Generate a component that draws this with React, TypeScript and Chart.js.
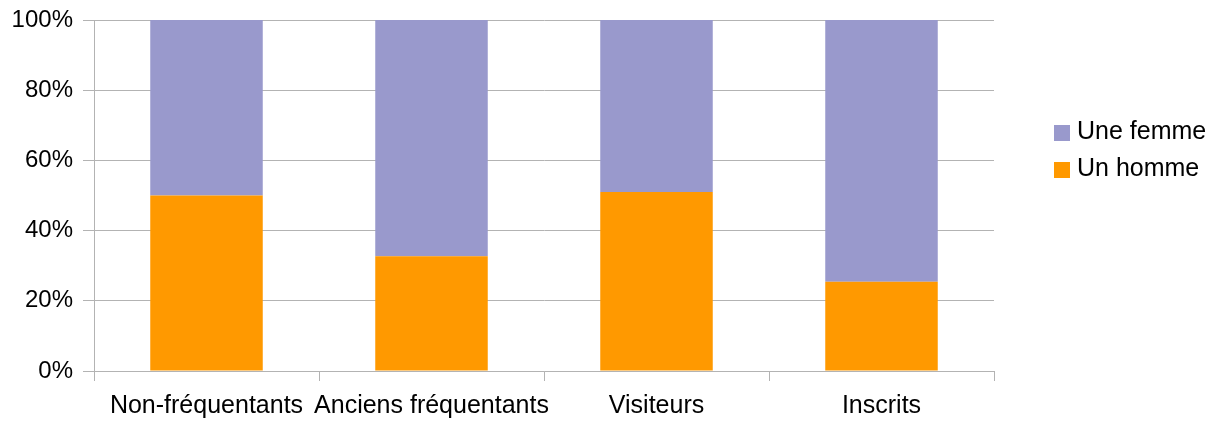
import React, { useEffect, useRef } from "react";
import { Chart, registerables } from "chart.js";

Chart.register(...registerables);

// Répartition hommes / femmes par type de public (en %)
const categories = ["Non-fréquentants", "Anciens fréquentants", "Visiteurs", "Inscrits"];
const hommeValues = [50, 32.7, 51, 25.4];
const femmeValues = [50, 67.3, 49, 74.6];
const seriesLabels = ["Un homme", "Une femme"];
const yTicks = [0, 20, 40, 60, 80, 100];

const FONT = "'Liberation Sans', Arial, sans-serif";
const GRID = "#b3b3b3";
const COLOR_HOMME = "#ff9900";
const COLOR_FEMME = "#9999cc";

// Légende dessinée à droite du graphique (série du haut en premier)
const sideLegend = {
  id: "sideLegend",
  afterDraw(chart: any) {
    const { ctx, chartArea } = chart;
    const items = chart.data.datasets
      .map((d: any) => ({ label: d.label, color: d.backgroundColor }))
      .reverse();
    ctx.save();
    ctx.font = `25px ${FONT}`;
    ctx.textBaseline = "middle";
    ctx.textAlign = "left";
    const boxX = chartArea.right + 60;
    let cy = 132;
    items.forEach((it: any) => {
      ctx.fillStyle = it.color;
      ctx.fillRect(boxX, cy - 7, 16, 16);
      ctx.fillStyle = "#000";
      ctx.fillText(it.label, boxX + 23, cy);
      cy += 37;
    });
    ctx.restore();
  },
};

export default function App() {
  const canvasRef = useRef<HTMLCanvasElement | null>(null);

  useEffect(() => {
    const canvas = canvasRef.current;
    if (!canvas) return;
    const chart = new Chart(canvas, {
      type: "bar",
      data: {
        labels: categories,
        datasets: [
          {
            label: seriesLabels[0],
            data: hommeValues,
            backgroundColor: COLOR_HOMME,
            categoryPercentage: 0.5,
            barPercentage: 1,
          },
          {
            label: seriesLabels[1],
            data: femmeValues,
            backgroundColor: COLOR_FEMME,
            categoryPercentage: 0.5,
            barPercentage: 1,
          },
        ],
      },
      options: {
        responsive: false,
        animation: false,
        layout: { padding: { top: 20, left: 0, right: 228, bottom: 0 } },
        plugins: {
          legend: { display: false },
          tooltip: { enabled: false },
        },
        scales: {
          x: {
            stacked: true,
            afterFit: (scale: any) => {
              scale.height = 52;
              scale.paddingLeft = 0;
              scale.paddingRight = 0;
            },
            grid: {
              offset: true,
              drawOnChartArea: true,
              color: (c: any) => (c.index === categories.length ? GRID : "rgba(0,0,0,0)"),
              tickColor: GRID,
              tickLength: 10,
              lineWidth: 1,
            },
            border: { color: GRID },
            ticks: {
              color: "#000",
              font: { family: FONT, size: 25 },
              padding: 10,
              maxRotation: 0,
              autoSkip: false,
            },
          },
          y: {
            stacked: true,
            min: 0,
            max: 100,
            afterFit: (scale: any) => {
              scale.width = 94;
              scale.paddingTop = 0;
              scale.paddingBottom = 0;
            },
            afterBuildTicks: (scale: any) => {
              scale.ticks = yTicks.map((v) => ({ value: v }));
            },
            grid: { color: GRID, tickColor: GRID, tickLength: 11 },
            border: { color: GRID },
            ticks: {
              color: "#000",
              font: { family: FONT, size: 24 },
              padding: 10,
              callback: (v: any) => `${v}%`,
            },
          },
        },
      },
      plugins: [sideLegend],
    });
    return () => chart.destroy();
  }, []);

  return (
    <div style={{ position: "absolute", left: 0, top: 0, width: 1222, height: 423, background: "#fff" }}>
      <canvas ref={canvasRef} width={1222} height={423} />
    </div>
  );
}
